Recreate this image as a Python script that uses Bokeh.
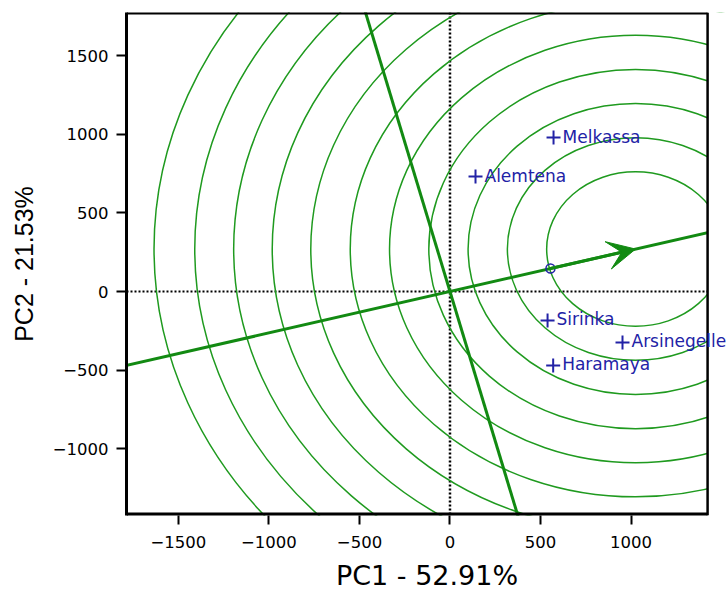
from bokeh.plotting import figure
from bokeh.models import Range1d, FixedTicker, Span, Arrow, VeeHead, ColumnDataSource, Label
from bokeh.embed import file_html
from bokeh.resources import INLINE

# ---- data ----
env_names = ["Melkassa", "Alemtena", "Sirinka", "Arsinegelle", "Haramaya"]
env_pc1 = [572, 141, 539, 953, 570]
env_pc2 = [979, 731, -184, -324, -470]

avg_env_pc1 = 555
avg_env_pc2 = 146

ideal_pc1 = 1025
ideal_pc2 = 270

circle_radii = [491, 708, 925, 1142, 1359, 1576, 1794, 2007, 2220, 2435, 2660]

x_ticks = [-1500, -1000, -500, 0, 500, 1000]
y_ticks = [-1000, -500, 0, 500, 1000, 1500]

x_title = "PC1 - 52.91%"
y_title = "PC2 - 21.53%"

# axis box limits (the plotting box); the canvas extends a little further right
X_MIN, X_MAX = -1787, 1423
Y_MIN, Y_MAX = -1424, 1774
X_CANVAS_END = 1533   # room for labels drawn past the right border

# ---- styles ----
GREEN_C = "#1f9a1f"
GREEN_L = "#128a12"
BLUE = "#2222a6"

p = figure(width=727, height=596,
           x_range=Range1d(X_MIN, X_CANVAS_END), y_range=Range1d(Y_MIN, Y_MAX),
           output_backend="svg", toolbar_location=None,
           min_border_left=126, min_border_right=0,
           min_border_top=12, min_border_bottom=81)
p.grid.visible = False
p.background_fill_color = "white"
p.border_fill_color = "white"
p.outline_line_color = None

# dotted axes through origin (beneath everything)
p.add_layout(Span(location=0, dimension="width", line_color="black",
                  line_width=2, line_dash="2 2", level="underlay"))
p.add_layout(Span(location=0, dimension="height", line_color="black",
                  line_width=2.5, line_dash="2 2", level="underlay"))

# concentric circles around the ideal environment
n = len(circle_radii)
p.ellipse(x=[ideal_pc1] * n, y=[ideal_pc2] * n,
          width=[2 * r for r in circle_radii], height=[2 * r for r in circle_radii],
          fill_color=None, line_color=GREEN_C, line_width=1.5)

# average environment axis (through origin and average environment) and its perpendicular
t = 10.0
p.line(x=[-t * avg_env_pc1, t * avg_env_pc1], y=[-t * avg_env_pc2, t * avg_env_pc2],
       line_color=GREEN_L, line_width=3)
p.line(x=[t * avg_env_pc2, -t * avg_env_pc2], y=[-t * avg_env_pc1, t * avg_env_pc1],
       line_color=GREEN_L, line_width=3)

# mask outside the axis box on the right, then the box borders
p.quad(left=[X_MAX], right=[X_CANVAS_END + 500], bottom=[Y_MIN - 500], top=[Y_MAX + 500],
       fill_color="white", line_color=None)
p.line(x=[X_MAX, X_MAX], y=[Y_MIN, Y_MAX], line_color="black", line_width=2.5)
p.line(x=[X_MIN, X_MAX], y=[Y_MAX, Y_MAX], line_color="black", line_width=4)
p.line(x=[X_MIN, X_MAX], y=[Y_MIN, Y_MIN], line_color="black", line_width=6)

# arrow head at the ideal environment
p.add_layout(Arrow(end=VeeHead(size=28, fill_color=GREEN_L, line_color=GREEN_L, line_width=1),
                   x_start=avg_env_pc1, y_start=avg_env_pc2,
                   x_end=ideal_pc1, y_end=ideal_pc2,
                   line_color=GREEN_L, line_width=3))

# average environment marker
p.scatter(x=[avg_env_pc1], y=[avg_env_pc2], marker="circle", size=9,
          fill_color=None, line_color=BLUE, line_width=1.5)

# environments
src = ColumnDataSource(dict(x=env_pc1, y=env_pc2, name=env_names))
p.scatter(x="x", y="y", source=src, marker="cross", size=14, line_width=2, line_color=BLUE)
for ex, ey, nm in zip(env_pc1, env_pc2, env_names):
    p.add_layout(Label(x=ex, y=ey, text=nm, x_offset=9, y_offset=1,
                       text_baseline="middle", text_align="left",
                       text_font="DejaVu Sans", text_font_size="17px", text_color=BLUE))

# axes
for ax, ticks in ((p.xaxis, x_ticks), (p.yaxis, y_ticks)):
    ax.ticker = FixedTicker(ticks=ticks)
    ax.minor_tick_line_color = None
    ax.major_tick_in = 0
    ax.axis_line_width = 3
    ax.axis_line_color = "black"
    ax.major_tick_line_width = 2
    ax.major_tick_line_color = "black"
    ax.major_label_text_font = "DejaVu Sans"
    ax.major_label_text_font_size = "16.5px"
    ax.major_label_text_color = "black"
    ax.axis_label_text_font_style = "normal"
    ax.axis_label_text_color = "black"

p.xaxis.axis_line_color = None   # bottom border drawn as a line limited to the box
p.xaxis.major_tick_out = 9
p.xaxis.major_label_standoff = 11
p.xaxis.axis_label = x_title
p.xaxis.axis_label_text_font = "DejaVu Sans"
p.xaxis.axis_label_text_font_size = "27px"
p.xaxis.axis_label_standoff = 9

p.yaxis.major_tick_out = 10
p.yaxis.major_label_standoff = 8
p.yaxis.axis_label = y_title
p.yaxis.axis_label_text_font = "Liberation Sans"
p.yaxis.axis_label_text_font_size = "25px"
p.yaxis.axis_label_standoff = 12

open("out.html", "w").write(file_html(p, INLINE))
